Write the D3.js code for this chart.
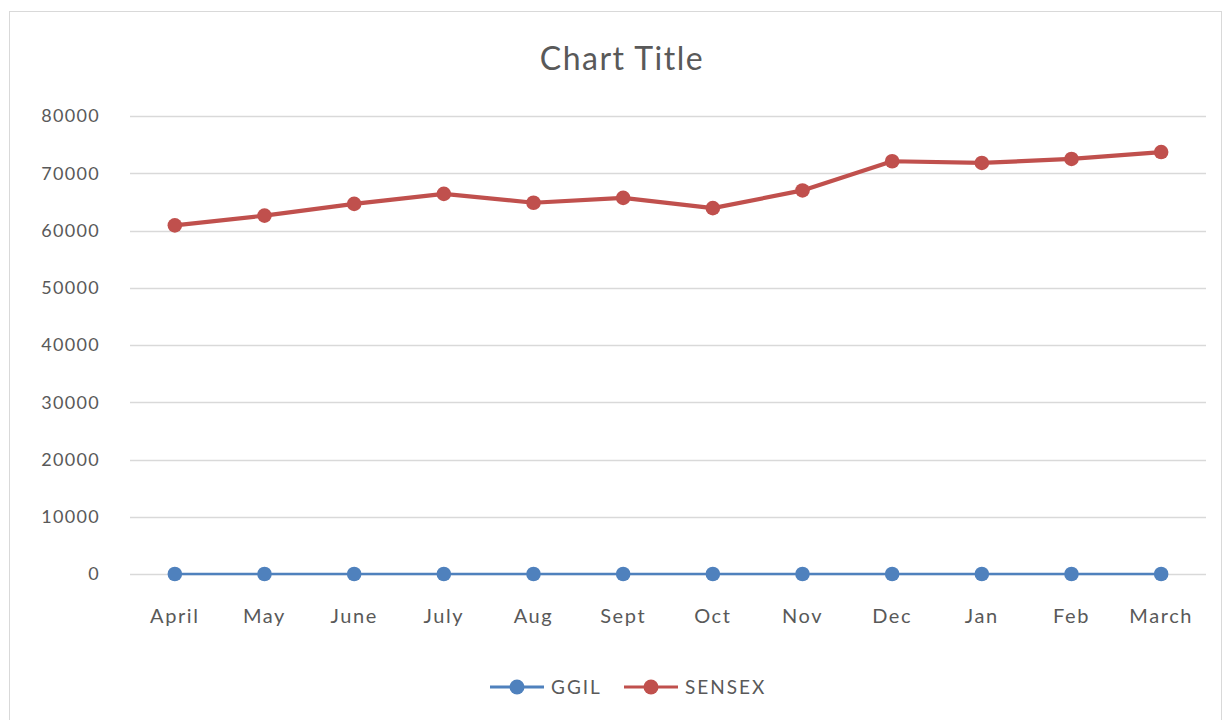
<!DOCTYPE html>
<html>
<head>
<meta charset="utf-8">
<script src="https://cdn.jsdelivr.net/npm/d3@7"></script>
<style>
  body { margin: 0; background: #fff; }
  text { font-family: Lato, "Open Sans", sans-serif; fill: #595959; }
</style>
</head>
<body>
<svg></svg>
<script>
const months = ["April", "May", "June", "July", "Aug", "Sept", "Oct", "Nov", "Dec", "Jan", "Feb", "March"];
const ggil = [0, 0, 0, 0, 0, 0, 0, 0, 0, 0, 0, 0];
const sensex = [60900, 62600, 64650, 66400, 64850, 65700, 63900, 67000, 72100, 71800, 72500, 73700];
const yTicks = [0, 10000, 20000, 30000, 40000, 50000, 60000, 70000, 80000];
const seriesNames = ["GGIL", "SENSEX"];
const seriesColors = ["#4f81bd", "#c0504d"];

const svgWidth = 1224;
const svgHeight = 720;
const margin = { top: 116, right: 18, bottom: 146, left: 130 };
const width = svgWidth - margin.left - margin.right;
const height = svgHeight - margin.top - margin.bottom;

const root = d3.select("svg")
    .attr("width", svgWidth)
    .attr("height", svgHeight);

// Chart area border
root.append("rect")
    .attr("x", 9.5)
    .attr("y", 11.5)
    .attr("width", 1212)
    .attr("height", 720)
    .attr("fill", "none")
    .attr("stroke", "#d9d9d9");

// Title
root.append("text")
    .attr("x", 622)
    .attr("y", 70)
    .style("text-anchor", "middle")
    .style("font-size", "32px")
    .style("letter-spacing", "1.5px")
    .text("Chart Title");

const svg = root.append("g")
    .attr("transform", `translate(${margin.left},${margin.top})`);

const xScale = d3.scaleBand()
    .domain(months)
    .range([0, width]);

const yScale = d3.scaleLinear()
    .domain([0, 80000])
    .range([height, 0]);

// Gridlines
svg.append("g")
    .selectAll("line")
    .data(yTicks)
    .enter()
    .append("line")
    .attr("x1", 0)
    .attr("x2", width)
    .attr("y1", d => Math.round(yScale(d)) + 0.5)
    .attr("y2", d => Math.round(yScale(d)) + 0.5)
    .attr("stroke", "#d9d9d9")
    .attr("stroke-width", 1.3);

// Y axis labels
const yAxis = svg.append("g")
    .call(d3.axisLeft(yScale).tickValues(yTicks).tickSize(0).tickPadding(30).tickFormat(d3.format("d")));
yAxis.select(".domain").remove();
yAxis.selectAll("text")
    .style("font-size", "18px")
    .style("letter-spacing", "1.3px")
    .style("font-family", "Lato, 'Open Sans', sans-serif")
    .attr("fill", "#595959");

// X axis labels
const xAxis = svg.append("g")
    .attr("transform", `translate(0,${height})`)
    .call(d3.axisBottom(xScale).tickSize(0).tickPadding(35));
xAxis.select(".domain").remove();
xAxis.selectAll("text")
    .style("font-size", "20px")
    .style("letter-spacing", "1.6px")
    .style("font-family", "Lato, 'Open Sans', sans-serif")
    .attr("fill", "#595959");

const line = d3.line()
    .x((d, i) => xScale(months[i]) + xScale.bandwidth() / 2)
    .y(d => yScale(d));

const series = [ggil, sensex];
const widths = [2.5, 4.2];

series.forEach((values, k) => {
    svg.append("path")
        .datum(values)
        .attr("fill", "none")
        .attr("stroke", seriesColors[k])
        .attr("stroke-width", widths[k])
        .attr("stroke-linejoin", "round")
        .attr("d", line);

    svg.selectAll(".dot" + k)
        .data(values)
        .enter()
        .append("circle")
        .attr("class", "dot" + k)
        .attr("cx", (d, i) => xScale(months[i]) + xScale.bandwidth() / 2)
        .attr("cy", d => yScale(d))
        .attr("r", 7.3)
        .attr("fill", seriesColors[k]);
});

// Legend
const legendX = [490, 624];
const legend = root.append("g");
seriesNames.forEach((name, k) => {
    const g = legend.append("g").attr("transform", `translate(${legendX[k]},687)`);
    g.append("line")
        .attr("x1", 0).attr("x2", 54)
        .attr("stroke", seriesColors[k])
        .attr("stroke-width", 3);
    g.append("circle")
        .attr("cx", 27)
        .attr("r", 7.5)
        .attr("fill", seriesColors[k]);
    g.append("text")
        .attr("x", 61)
        .attr("y", 7)
        .style("font-size", "19px")
        .style("letter-spacing", "2px")
        .text(name);
});
</script>
</body>
</html>
